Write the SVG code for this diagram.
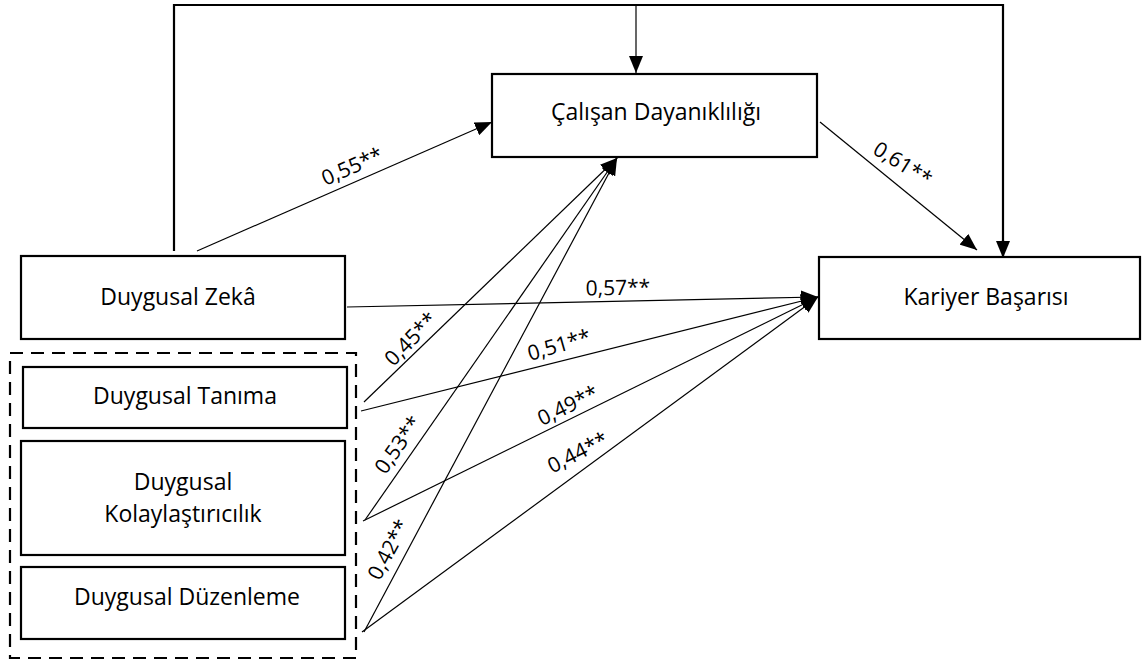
<svg xmlns="http://www.w3.org/2000/svg" width="1142" height="660" viewBox="0 0 1142 660">
<style>
.box{fill:#fff;stroke:#000;stroke-width:2.2}
.t{font-family:"Open Sans","Noto Sans",sans-serif;font-size:23px;fill:#000;text-anchor:middle}
.l{font-family:"Open Sans","Noto Sans",sans-serif;font-size:21px;fill:#000;text-anchor:middle}
.c{fill:none;stroke:#000;stroke-width:1.2}
.f{fill:none;stroke:#000;stroke-width:2.2}
</style>
<defs>
<marker id="ah" markerUnits="userSpaceOnUse" markerWidth="17" markerHeight="14" refX="17" refY="7" orient="auto">
<path d="M0,0 L17,7 L0,14 Z" fill="#000"/>
</marker>
</defs>
<rect width="1142" height="660" fill="#fff"/>
<g id="connectors">
<polyline class="f" points="174,251 174,5 1003,5 1003,242"/>
<line class="f" x1="1003" y1="240" x2="1003" y2="258" marker-end="url(#ah)"/>
<line class="c" x1="636" y1="5" x2="636" y2="73" marker-end="url(#ah)"/>
<line class="c" x1="197" y1="251" x2="492" y2="122" marker-end="url(#ah)"/>
<line class="c" x1="820" y1="122" x2="977" y2="250" marker-end="url(#ah)"/>
<line class="c" x1="347" y1="307" x2="818" y2="297" marker-end="url(#ah)"/>
<line class="c" x1="361" y1="411" x2="818" y2="297" marker-end="url(#ah)"/>
<line class="c" x1="363" y1="521" x2="818" y2="297" marker-end="url(#ah)"/>
<line class="c" x1="362" y1="632" x2="818" y2="297" marker-end="url(#ah)"/>
<line class="c" x1="364" y1="402" x2="617" y2="158" marker-end="url(#ah)"/>
<line class="c" x1="365" y1="520" x2="617" y2="158" marker-end="url(#ah)"/>
<line class="c" x1="364" y1="632" x2="617" y2="158" marker-end="url(#ah)"/>
<text class="l" transform="translate(355,173) rotate(-23.6)">0,55**</text>
<text class="l" transform="translate(899,170) rotate(32)">0,61**</text>
<text class="l" transform="translate(618,295) rotate(-1)">0,57**</text>
<text class="l" transform="translate(416,344) rotate(-46)">0,45**</text>
<text class="l" transform="translate(561,352) rotate(-16)">0,51**</text>
<text class="l" transform="translate(571,412) rotate(-26)">0,49**</text>
<text class="l" transform="translate(581,459) rotate(-27)">0,44**</text>
<text class="l" transform="translate(404,449) rotate(-55)">0,53**</text>
<text class="l" transform="translate(395,553) rotate(-62)">0,42**</text>
</g>
<g id="calisan">
<rect class="box" x="492" y="74" width="325" height="83"/>
<text class="t" x="656" y="120">Çalışan Dayanıklılığı</text>
</g>
<g id="kariyer">
<rect class="box" x="819" y="257" width="321" height="82"/>
<text class="t" x="986" y="305">Kariyer Başarısı</text>
</g>
<g id="zeka">
<rect class="box" x="21" y="256" width="324" height="83"/>
<text class="t" x="178" y="305">Duygusal Zekâ</text>
</g>
<g id="group">
<rect x="10" y="353" width="346" height="305" fill="none" stroke="#000" stroke-width="2.2" stroke-dasharray="13 8"/>
</g>
<g id="tanima">
<rect class="box" x="23" y="367" width="324" height="61"/>
<text class="t" x="185" y="404">Duygusal Tanıma</text>
</g>
<g id="kolay">
<rect class="box" x="21" y="441" width="324" height="114"/>
<text class="t" x="183" y="490">Duygusal</text>
<text class="t" x="183" y="522">Kolaylaştırıcılık</text>
</g>
<g id="duzen">
<rect class="box" x="21" y="567" width="324" height="72"/>
<text class="t" x="187" y="605">Duygusal Düzenleme</text>
</g>
</svg>
